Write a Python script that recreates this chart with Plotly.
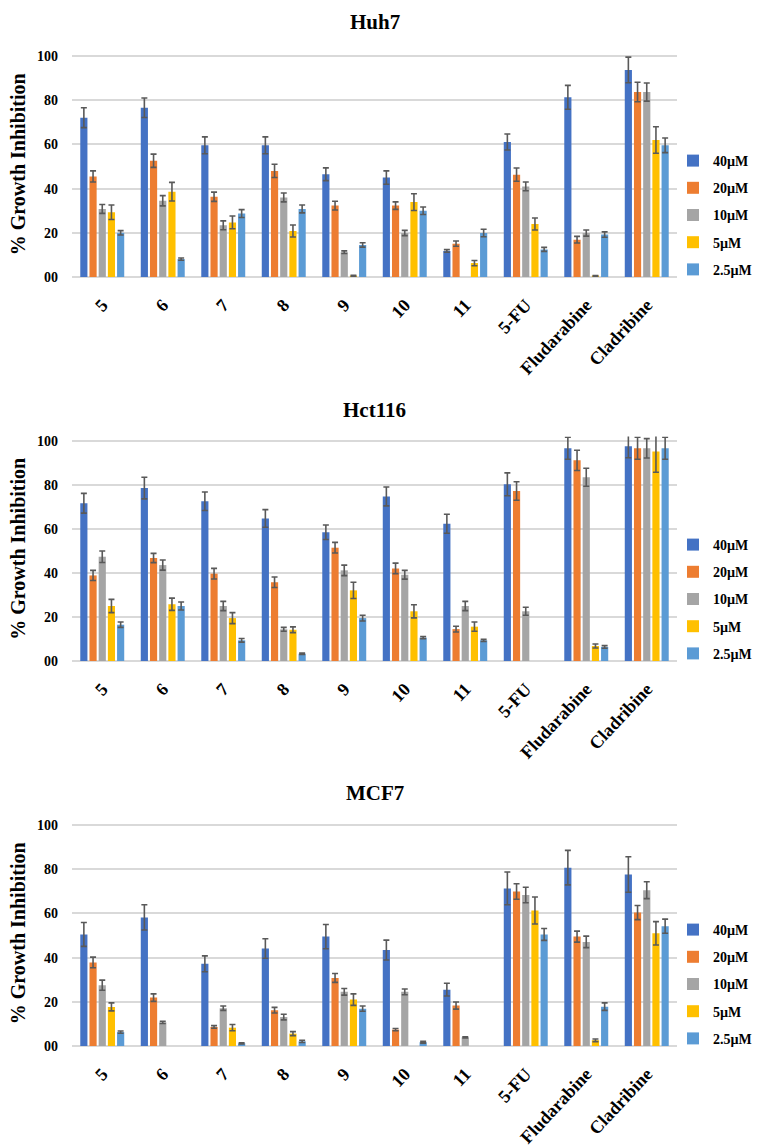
import plotly.graph_objects as go

# ---- data -------------------------------------------------------------
categories = ["5", "6", "7", "8", "9", "10", "11", "5-FU", "Fludarabine", "Cladribine"]
concentrations = ["40µM", "20µM", "10µM", "5µM", "2.5µM"]
cell_lines = ["Huh7", "Hct116", "MCF7"]
y_ticks = [0, 20, 40, 60, 80, 100]

# Huh7: mean % growth inhibition and error per concentration
huh7_40 = [72.1, 76.6, 59.6, 59.6, 46.5, 45.0, 11.8, 61.1, 81.3, 93.7]
huh7_40_err = [4.5, 4.4, 3.8, 3.8, 2.9, 3.0, 0.6, 3.6, 5.4, 5.8]
huh7_20 = [45.5, 52.6, 36.3, 48.0, 32.3, 32.3, 15.1, 46.3, 16.9, 83.7]
huh7_20_err = [2.5, 3.0, 2.1, 3.0, 2.0, 1.7, 1.2, 3.0, 1.5, 4.4]
huh7_10 = [30.8, 34.5, 23.4, 36.0, 11.2, 19.9, None, 41.0, 19.9, 83.7]
huh7_10_err = [2.0, 2.3, 2.0, 2.0, 0.6, 1.2, None, 2.0, 1.4, 4.1]
huh7_5 = [29.3, 38.6, 24.7, 20.8, 0.5, 33.9, 6.3, 24.0, 0.3, 62.0]
huh7_5_err = [3.3, 4.2, 2.9, 2.7, 0.3, 3.8, 1.2, 2.7, 0.3, 6.0]
huh7_25 = [20.0, 8.1, 28.7, 30.8, 14.5, 30.0, 19.9, 12.5, 19.2, 59.6]
huh7_25_err = [1.0, 0.5, 1.8, 1.8, 1.0, 1.7, 1.7, 0.9, 1.2, 3.3]

# Hct116
hct116_40 = [71.7, 78.6, 72.6, 64.8, 58.5, 74.8, 62.4, 80.3, 96.7, 97.6]
hct116_40_err = [4.5, 4.9, 4.2, 4.0, 3.3, 4.3, 4.3, 5.2, 5.0, 5.2]
hct116_20 = [38.9, 46.8, 39.7, 35.8, 51.5, 42.1, 14.5, 77.3, 91.2, 96.7]
hct116_20_err = [2.3, 2.1, 2.4, 2.4, 2.4, 2.4, 1.3, 4.2, 4.6, 5.0]
hct116_10 = [47.4, 43.6, 25.0, 14.4, 41.2, 39.2, 25.0, 22.6, 83.5, 96.7]
hct116_10_err = [2.6, 2.3, 2.1, 0.9, 2.4, 2.0, 2.1, 1.8, 4.1, 4.4]
hct116_5 = [25.0, 25.8, 19.5, 14.2, 32.1, 22.6, 15.6, None, 6.8, 95.2]
hct116_5_err = [3.0, 2.8, 2.5, 1.3, 3.7, 3.0, 2.1, None, 0.9, 9.4]
hct116_25 = [16.5, 25.0, 9.4, 3.3, 19.5, 10.6, 9.4, None, 6.4, 96.7]
hct116_25_err = [1.2, 1.8, 0.8, 0.3, 1.3, 0.5, 0.5, None, 0.6, 5.0]

# MCF7
mcf7_40 = [50.5, 58.2, 37.2, 44.1, 49.5, 43.4, 25.5, 71.3, 80.7, 77.6]
mcf7_40_err = [5.4, 5.7, 3.6, 4.4, 5.5, 4.5, 2.9, 7.4, 7.8, 8.0]
mcf7_20 = [37.8, 21.9, 8.6, 16.2, 30.8, 7.4, 18.3, 69.9, 49.5, 60.4]
mcf7_20_err = [2.4, 1.7, 0.6, 1.3, 2.0, 0.5, 1.6, 3.5, 2.5, 3.2]
mcf7_10 = [27.5, 10.7, 17.1, 13.1, 24.5, 24.5, 3.9, 68.3, 47.1, 70.5]
mcf7_10_err = [2.3, 0.5, 1.0, 1.3, 1.5, 1.3, 0.3, 3.5, 2.6, 3.8]
mcf7_5 = [17.7, None, 8.3, 5.6, 21.0, None, None, 61.3, 2.6, 51.0]
mcf7_5_err = [1.8, None, 1.4, 0.9, 2.6, None, None, 6.1, 0.6, 5.3]
mcf7_25 = [6.3, None, 1.2, 2.1, 16.9, 1.7, None, 50.5, 17.8, 54.2]
mcf7_25_err = [0.5, None, 0.3, 0.5, 1.2, 0.4, None, 2.7, 1.7, 3.2]

panels = [
    [(huh7_40, huh7_40_err), (huh7_20, huh7_20_err), (huh7_10, huh7_10_err),
     (huh7_5, huh7_5_err), (huh7_25, huh7_25_err)],
    [(hct116_40, hct116_40_err), (hct116_20, hct116_20_err), (hct116_10, hct116_10_err),
     (hct116_5, hct116_5_err), (hct116_25, hct116_25_err)],
    [(mcf7_40, mcf7_40_err), (mcf7_20, mcf7_20_err), (mcf7_10, mcf7_10_err),
     (mcf7_5, mcf7_5_err), (mcf7_25, mcf7_25_err)],
]

# ---- styling / layout constants --------------------------------------
colors = ["#4472C4", "#ED7D31", "#A5A5A5", "#FFC000", "#5B9BD5"]
FONT = "Liberation Serif, Times New Roman, serif"
W, H = 757, 1147
PLOT_LEFT, PLOT_RIGHT = 72, 677
Y_MAX = 102
ZERO_PX = [277, 661, 1046]       # pixel row of the 0 gridline per panel
UNIT_PX = [2.21, 2.20, 2.21]     # pixels per % unit per panel
TITLE_PX = [22, 410, 793]
LEGEND_TOP_PX = [145, 529, 914]

fig = go.Figure()
layout = dict(
    width=W, height=H,
    margin=dict(l=0, r=0, t=0, b=0, autoexpand=False),
    paper_bgcolor="white", plot_bgcolor="white",
    barmode="group", bargap=0.24, bargroupgap=0.22,
    font=dict(family=FONT, color="black"),
    showlegend=True,
    annotations=[],
)

for p, series in enumerate(panels):
    sfx = "" if p == 0 else str(p + 1)
    xa, ya, lg = "x" + sfx, "y" + sfx, "legend" + sfx
    for c, (vals, errs) in enumerate(series):
        fig.add_trace(go.Bar(
            x=categories, y=vals, name=concentrations[c],
            xaxis=xa, yaxis=ya, legend=lg,
            legendgroup=f"{cell_lines[p]}_{c}",
            marker=dict(color=colors[c], line=dict(width=0)),
            error_y=dict(type="data", array=errs, color="#595959",
                         thickness=1.6, width=3),
        ))

    bottom = 1 - ZERO_PX[p] / H
    top = 1 - (ZERO_PX[p] - Y_MAX * UNIT_PX[p]) / H
    layout["xaxis" + sfx] = dict(
        domain=[PLOT_LEFT / W, PLOT_RIGHT / W], anchor=ya, automargin=False,
        type="category", categoryorder="array", categoryarray=categories,
        tickangle=-47, ticks="", showgrid=False, zeroline=False, showline=False,
        ticklabelstandoff=13,
        tickfont=dict(family=FONT, size=18, color="black", weight="bold"),
    )
    layout["yaxis" + sfx] = dict(
        domain=[bottom, top], anchor=xa, automargin=False,
        range=[0, Y_MAX], tickvals=y_ticks, tickformat="02d",
        showgrid=True, gridcolor="#D9D9D9", gridwidth=1.5,
        zeroline=True, zerolinecolor="#D9D9D9", zerolinewidth=1.5,
        showline=False, ticks="", ticklabelstandoff=13,
        tickfont=dict(family=FONT, size=14, color="black", weight="bold"),
        title=dict(text="% Growth Inhibition", standoff=5,
                   font=dict(family=FONT, size=20, color="black", weight="bold")),
    )
    layout[lg] = dict(
        x=0.889, xanchor="left",
        y=1 - LEGEND_TOP_PX[p] / H, yanchor="top",
        bgcolor="rgba(0,0,0,0)", borderwidth=0,
        tracegroupgap=6, itemclick=False,
        font=dict(family=FONT, size=14, color="black", weight="bold"),
    )
    layout["annotations"].append(dict(
        text=cell_lines[p], xref="paper", yref="paper",
        x=(PLOT_LEFT + PLOT_RIGHT) / 2 / W, y=1 - TITLE_PX[p] / H,
        xanchor="center", yanchor="middle", showarrow=False,
        font=dict(family=FONT, size=21, color="black", weight="bold"),
    ))

fig.update_layout(**layout)
fig.write_html("out.html")
